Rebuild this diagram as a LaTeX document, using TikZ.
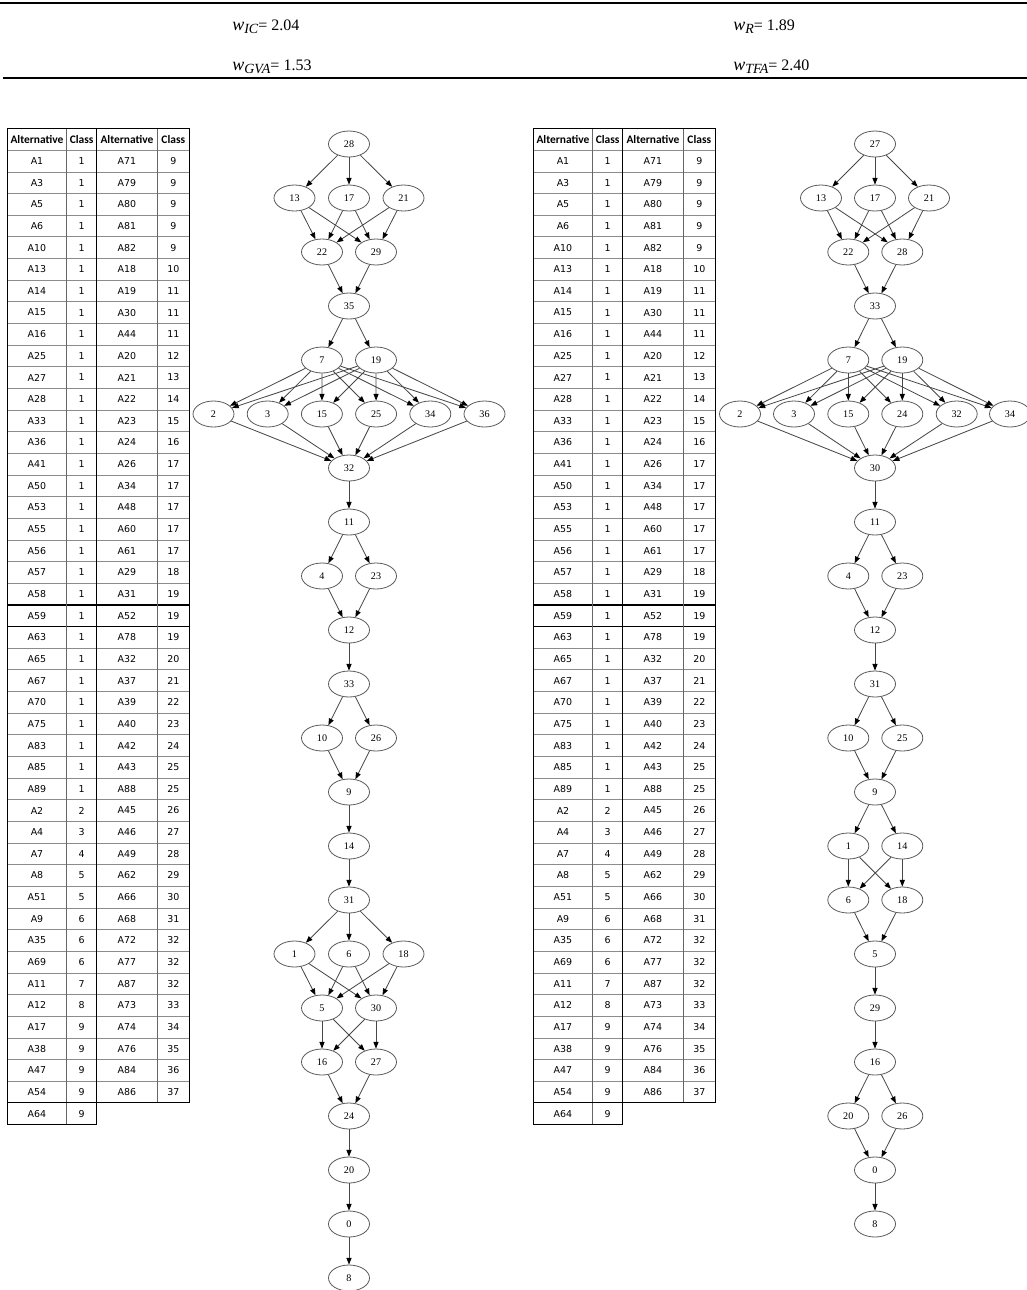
\documentclass[tikz,border=0pt]{standalone}
\usepackage{fontspec}
\setmainfont{Liberation Serif}
\newfontfamily\tabfont{DejaVu Sans}
\newfontfamily\headfont{Carlito}
\usetikzlibrary{arrows.meta,shapes.geometric}

\newcommand\wlab[2]{{\fontsize{13.5}{15}\selectfont\textit{w}}\raisebox{-0.4ex}{\fontsize{10.5}{12}\selectfont\textit{#1}}= #2}
\def\tabrows{A1/1/A71/9, A3/1/A79/9, A5/1/A80/9, A6/1/A81/9, A10/1/A82/9, A13/1/A18/10, A14/1/A19/11, A15/1/A30/11, A16/1/A44/11, A25/1/A20/12, A27/1/A21/13, A28/1/A22/14, A33/1/A23/15, A36/1/A24/16, A41/1/A26/17, A50/1/A34/17, A53/1/A48/17, A55/1/A60/17, A56/1/A61/17, A57/1/A29/18, A58/1/A31/19, A59/1/A52/19, A63/1/A78/19, A65/1/A32/20, A67/1/A37/21, A70/1/A39/22, A75/1/A40/23, A83/1/A42/24, A85/1/A43/25, A89/1/A88/25, A2/2/A45/26, A4/3/A46/27, A7/4/A49/28, A8/5/A62/29, A51/5/A66/30, A9/6/A68/31, A35/6/A72/32, A69/6/A77/32, A11/7/A87/32, A12/8/A73/33, A17/9/A74/34, A38/9/A76/35, A47/9/A84/36, A54/9/A86/37}

\tikzset{
  gnode/.style={ellipse, draw=black!65, line width=0.6pt, minimum width=30.75pt, minimum height=19.5pt, inner sep=0pt, font=\fontsize{7.6}{8}\selectfont},
  garrow/.style={draw=black!72, line width=0.62pt, -{Triangle[length=5pt,width=3.8pt,color=black]}},
  tcell/.style={inner sep=0pt, font=\tabfont\fontsize{7.1}{8}\selectfont},
  thead/.style={inner sep=0pt, font=\headfont\bfseries\fontsize{8.6}{9}\selectfont},
  hline/.style={draw=black!45, line width=0.5pt},
  vline/.style={draw=black!60, line width=0.8pt},
  frame/.style={draw=black, line width=0.8pt},
  thick rule/.style={draw=black, line width=1.3pt},
  titletext/.style={anchor=west, inner sep=0pt, font=\fontsize{12}{14}\selectfont}
}

\newcommand\drawtable[1]{%
  \node[thead] (#1h1) at (37,139.3) {Alternative};
  \node[thead] (#1h2) at (81.7,139.3) {Class};
  \node[thead] (#1h3) at (127,139.3) {Alternative};
  \node[thead] (#1h4) at (173.3,139.3) {Class};
  \foreach \a/\b/\c/\d [count=\i] in \tabrows {
    \pgfmathsetmacro\yy{161+(\i-1)*21.65}
    \node[tcell] (#1a\i) at (37,\yy) {\a};
    \node[tcell] (#1b\i) at (81.7,\yy) {\b};
    \node[tcell] (#1c\i) at (127,\yy) {\c};
    \node[tcell] (#1d\i) at (173.3,\yy) {\d};
  }
  \node[tcell] (#1a45) at (37,1113.6) {A64};
  \node[tcell] (#1b45) at (81.7,1113.6) {9};
  \foreach \j in {0,...,43} {
    \pgfmathsetmacro\yy{150.2+\j*21.65}
    \draw[hline] (7.3,\yy) -- (189.3,\yy);
  }
  \draw[thick rule] (7.3,604.85) -- (189.3,604.85);
  \draw[thick rule] (7.3,626.5) -- (189.3,626.5);
  \draw[vline] (66.7,128.5) -- (66.7,1124.45);
  \draw[vline] (157.3,128.5) -- (157.3,1102.8);
  \draw[frame] (96.7,128.5) -- (96.7,1124.45);
  \draw[frame] (7.3,1102.8) -- (189.3,1102.8);
  \draw[frame] (96.7,1124.45) -- (7.3,1124.45) -- (7.3,128.5) -- (189.3,128.5) -- (189.3,1102.8);
}

\begin{document}
\begin{tikzpicture}[x=0.75pt,y=-0.75pt]
\useasboundingbox (0,0) rectangle (1027,1290);

% header rules and weights
\draw[line width=1.3pt] (0,3) -- (1027,3);
\draw[line width=1.3pt] (3,78) -- (1027,78);
\node[titletext] (wic) at (232,27) {\wlab{IC}{2.04}};
\node[titletext] (wgva) at (232,67) {\wlab{GVA}{1.53}};
\node[titletext] (wr) at (733,27) {\wlab{R}{1.89}};
\node[titletext] (wtfa) at (733,67) {\wlab{TFA}{2.40}};

% tables
\drawtable{TL}
\begin{scope}[xshift=394.5pt]
\drawtable{TR}
\end{scope}

% left graph
\foreach \n/\x/\k in {28/349/0, 13/294.5/1, 17/349/1, 21/403.5/1, 22/322/2, 29/376/2, 35/349/3, 7/322/4, 19/376/4,
  2/213.5/5, 3/267.7/5, 15/321.9/5, 25/376.1/5, 34/430.3/5, 36/484.5/5, 32/349/6, 11/349/7, 4/322/8, 23/376/8,
  12/349/9, 33/349/10, 10/322/11, 26/376/11, 9/349/12, 14/349/13, 31/349/14, 1/294.5/15, 6/349/15, 18/403.5/15,
  5/322/16, 30/376/16, 16/322/17, 27/376/17, 24/349/18, 20/349/19, 0/349/20, 8/349/21}
  \node[gnode] (L\n) at (\x,{144+54*\k}) {\n};

\foreach \s/\t in {28/13, 28/17, 28/21, 13/22, 13/29, 17/22, 17/29, 21/22, 21/29, 22/35, 29/35, 35/7, 35/19,
  7/2, 7/3, 7/15, 7/25, 7/34, 7/36, 19/2, 19/3, 19/15, 19/25, 19/34, 19/36,
  2/32, 3/32, 15/32, 25/32, 34/32, 36/32, 32/11, 11/4, 11/23, 4/12, 23/12, 12/33, 33/10, 33/26, 10/9, 26/9,
  9/14, 14/31, 31/1, 31/6, 31/18, 1/5, 1/30, 6/5, 6/30, 18/5, 18/30, 5/16, 5/27, 30/16, 30/27,
  16/24, 27/24, 24/20, 20/0, 0/8}
  \draw[garrow] (L\s) -- (L\t);

% right graph
\foreach \n/\x/\k in {27/875/0, 13/821/1, 17/875/1, 21/929/1, 22/848.3/2, 28/902.3/2, 33/875/3, 7/848.3/4, 19/902.3/4,
  2/740/5, 3/794/5, 15/848.3/5, 24/902.3/5, 32/956.7/5, 34/1010/5, 30/875/6, 11/875/7, 4/848.3/8, 23/902.3/8,
  12/875/9, 31/875/10, 10/848.3/11, 25/902.3/11, 9/875/12, 1/848.3/13, 14/902.3/13, 6/848.3/14, 18/902.3/14,
  5/875/15, 29/875/16, 16/875/17, 20/848.3/18, 26/902.3/18, 0/875/19, 8/875/20}
  \node[gnode] (R\n) at (\x,{144+54*\k}) {\n};

\foreach \s/\t in {27/13, 27/17, 27/21, 13/22, 13/28, 17/22, 17/28, 21/22, 21/28, 22/33, 28/33, 33/7, 33/19,
  7/2, 7/3, 7/15, 7/24, 7/32, 7/34, 19/2, 19/3, 19/15, 19/24, 19/32, 19/34,
  2/30, 3/30, 15/30, 24/30, 32/30, 34/30, 30/11, 11/4, 11/23, 4/12, 23/12, 12/31, 31/10, 31/25, 10/9, 25/9,
  9/1, 9/14, 1/6, 1/18, 14/6, 14/18, 6/5, 18/5, 5/29, 29/16, 16/20, 16/26, 20/0, 26/0, 0/8}
  \draw[garrow] (R\s) -- (R\t);
\end{tikzpicture}
\end{document}
